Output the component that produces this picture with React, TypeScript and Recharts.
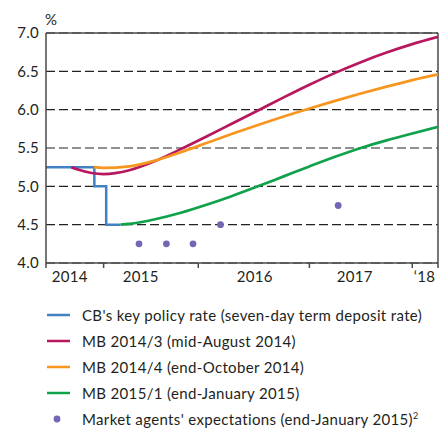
import React from "react";
import {
  ComposedChart,
  Line,
  Scatter,
  XAxis,
  YAxis,
  CartesianGrid,
  ReferenceLine,
} from "recharts";

// time in fractional years
const policyRate = [
  { t: 2014.44, v: 5.25 },
  { t: 2014.91, v: 5.0 },
  { t: 2015.025, v: 4.5 },
  { t: 2015.165, v: 4.5 },
];

const mb20143 = [
  { t: 2014.686, v: 5.25 },
  { t: 2014.75, v: 5.22 },
  { t: 2015.0, v: 5.16 },
  { t: 2015.25, v: 5.21 },
  { t: 2015.5, v: 5.33 },
  { t: 2015.75, v: 5.485 },
  { t: 2016.0, v: 5.65 },
  { t: 2016.25, v: 5.82 },
  { t: 2016.5, v: 5.99 },
  { t: 2016.75, v: 6.16 },
  { t: 2017.0, v: 6.325 },
  { t: 2017.25, v: 6.48 },
  { t: 2017.5, v: 6.62 },
  { t: 2017.75, v: 6.745 },
  { t: 2018.0, v: 6.855 },
  { t: 2018.25, v: 6.95 },
];

const mb20144 = [
  { t: 2014.906, v: 5.25 },
  { t: 2015.0, v: 5.24 },
  { t: 2015.25, v: 5.26 },
  { t: 2015.5, v: 5.335 },
  { t: 2015.75, v: 5.445 },
  { t: 2016.0, v: 5.565 },
  { t: 2016.25, v: 5.685 },
  { t: 2016.5, v: 5.8 },
  { t: 2016.75, v: 5.91 },
  { t: 2017.0, v: 6.015 },
  { t: 2017.25, v: 6.115 },
  { t: 2017.5, v: 6.21 },
  { t: 2017.75, v: 6.3 },
  { t: 2018.0, v: 6.385 },
  { t: 2018.25, v: 6.46 },
];

const mb20151 = [
  { t: 2015.165, v: 4.5 },
  { t: 2015.25, v: 4.51 },
  { t: 2015.5, v: 4.57 },
  { t: 2015.75, v: 4.655 },
  { t: 2016.0, v: 4.76 },
  { t: 2016.25, v: 4.875 },
  { t: 2016.5, v: 5.0 },
  { t: 2016.75, v: 5.13 },
  { t: 2017.0, v: 5.26 },
  { t: 2017.25, v: 5.385 },
  { t: 2017.5, v: 5.5 },
  { t: 2017.75, v: 5.6 },
  { t: 2018.0, v: 5.69 },
  { t: 2018.25, v: 5.775 },
];

const expectations = [
  { t: 2015.344, v: 4.25 },
  { t: 2015.61, v: 4.25 },
  { t: 2015.869, v: 4.25 },
  { t: 2016.136, v: 4.5 },
  { t: 2017.28, v: 4.75 },
];

const yearBoundaries = [2014.44, 2015, 2015.92, 2017, 2018, 2018.25];
const yearLabels = [
  { t: 2014.67, label: "2014" },
  { t: 2015.36, label: "2015" },
  { t: 2016.47, label: "2016" },
  { t: 2017.44, label: "2017" },
  { t: 2018.12, label: "\u201818" },
];
const yTicks = [4.0, 4.5, 5.0, 5.5, 6.0, 6.5, 7.0];

const FONT = "Lato, 'Open Sans', sans-serif";
const TEXT = "#231f20";
const AXIS = "#4a4a4a";

const series = [
  { name: "CB's key policy rate (seven-day term deposit rate)", color: "#4281c4", kind: "line" },
  { name: "MB 2014/3 (mid-August 2014)", color: "#b8175f", kind: "line" },
  { name: "MB 2014/4 (end-October 2014)", color: "#f7961f", kind: "line" },
  { name: "MB 2015/1 (end-January 2015)", color: "#10a14b", kind: "line" },
  { name: "Market agents' expectations (end-January 2015)", color: "#7168b5", kind: "dot" },
];

const XTick = (props: any) => {
  const { x, y, payload } = props;
  const lab = yearLabels.find((l) => Math.abs(l.t - payload.value) < 1e-6);
  if (lab) {
    return (
      <text x={x} y={y + 19} textAnchor="middle" fontSize={15} fill={TEXT} fontFamily={FONT} letterSpacing={0.3}>
        {lab.label}
      </text>
    );
  }
  return <line x1={x} x2={x} y1={y} y2={y + 5} stroke={AXIS} strokeWidth={1.5} />;
};

export default function App() {
  const allTicks = [...yearBoundaries, ...yearLabels.map((l) => l.t)].sort((a, b) => a - b);
  return (
    <div style={{ position: "absolute", left: 0, top: 0, width: 444, height: 429, background: "#fff", fontFamily: FONT }}>
      <div style={{ position: "absolute", left: 45, top: 10, fontSize: 15, color: TEXT }}>%</div>
      <ComposedChart
        width={444}
        height={290}
        margin={{ top: 33, right: 6, left: 0, bottom: 0 }}
      >
        <CartesianGrid vertical={false} stroke="#222" strokeDasharray="9 4" strokeWidth={1.2} />
        <XAxis
          type="number"
          dataKey="t"
          domain={[2014.44, 2018.25]}
          ticks={allTicks}
          interval={0}
          height={27}
          tickSize={0}
          tickMargin={0}
          tickLine={false}
          tick={<XTick />}
          axisLine={{ stroke: AXIS, strokeWidth: 1.5 }}
          allowDataOverflow
        />
        <YAxis
          type="number"
          domain={[4, 7]}
          ticks={yTicks}
          interval={0}
          width={46}
          tickSize={0}
          tickMargin={7}
          tickLine={false}
          tickFormatter={(v: number) => v.toFixed(1)}
          tick={{ fontSize: 15, fill: TEXT, fontFamily: FONT, letterSpacing: 0.3 }}
          axisLine={{ stroke: AXIS, strokeWidth: 1.5 }}
          allowDataOverflow
        />
        <ReferenceLine y={7} stroke={AXIS} strokeWidth={1.5} />
        <ReferenceLine x={2018.25} stroke={AXIS} strokeWidth={1.5} />
        <Line data={policyRate} dataKey="v" type="stepAfter" stroke={series[0].color} strokeWidth={2.5} dot={false} isAnimationActive={false} />
        <Line data={mb20143} dataKey="v" type="monotone" stroke={series[1].color} strokeWidth={2.7} dot={false} isAnimationActive={false} />
        <Line data={mb20144} dataKey="v" type="monotone" stroke={series[2].color} strokeWidth={2.7} dot={false} isAnimationActive={false} />
        <Line data={mb20151} dataKey="v" type="monotone" stroke={series[3].color} strokeWidth={2.7} dot={false} isAnimationActive={false} />
        <Scatter data={expectations} dataKey="v" fill={series[4].color} shape={(p: any) => <circle cx={p.cx} cy={p.cy} r={3.4} fill={series[4].color} />} isAnimationActive={false} />
      </ComposedChart>
      <div style={{ position: "absolute", left: 46, top: 302, fontSize: 15, color: TEXT, letterSpacing: 0.35 }}>
        {series.map((s, i) => (
          <div key={s.name} style={{ display: "flex", alignItems: "center", height: 26 }}>
            <svg width={36} height={26} style={{ flex: "none" }}>
              {s.kind === "line" ? (
                <line x1={1} x2={24} y1={13} y2={13} stroke={s.color} strokeWidth={2.5} />
              ) : (
                <circle cx={11} cy={13} r={3.4} fill={s.color} />
              )}
            </svg>
            <span style={{ whiteSpace: "nowrap" }}>
              {s.name}
              {i === 4 ? <sup style={{ fontSize: 9 }}>2</sup> : null}
            </span>
          </div>
        ))}
      </div>
    </div>
  );
}
